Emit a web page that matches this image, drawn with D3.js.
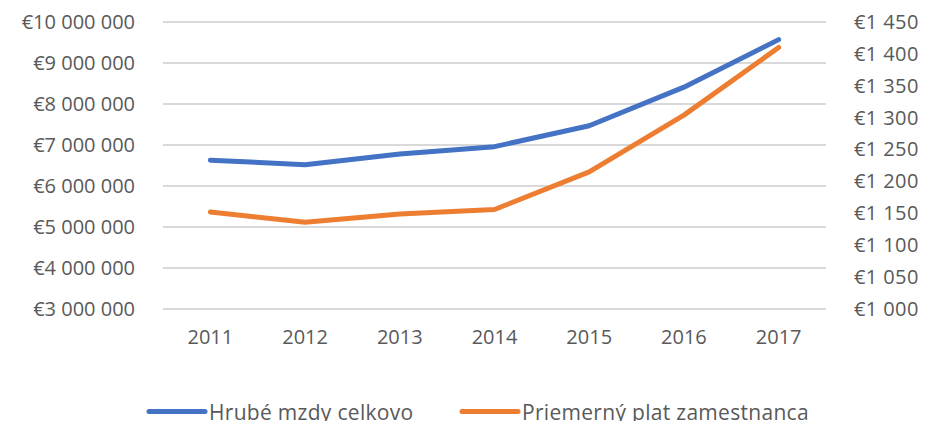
<!DOCTYPE html>
<html>
<head>
<meta charset="utf-8">
<script src="https://d3js.org/d3.v7.min.js"></script>
<style>
  body { margin: 0; background: #fff; }
  svg { display: block; }
  .tick text, .lbl { font-family: "Open Sans", "Noto Sans", sans-serif; fill: #595959; }
</style>
</head>
<body>
<script>
// years on the x axis
var years = ["2011", "2012", "2013", "2014", "2015", "2016", "2017"];
// left axis series: gross wages total
var hrubeMzdy = [6630000, 6520000, 6780000, 6960000, 7470000, 8410000, 9570000];
// right axis series: average employee pay
var priemernyPlat = [1152, 1136, 1149, 1156, 1215, 1304, 1410];
var leftTicks = [3000000, 4000000, 5000000, 6000000, 7000000, 8000000, 9000000, 10000000];
var rightTicks = [1000, 1050, 1100, 1150, 1200, 1250, 1300, 1350, 1400, 1450];
var seriesNames = ["Hrubé mzdy celkovo", "Priemerný plat zamestnanca"];
var colors = ["#4472C4", "#ED7D31"];

var outerWidth = 927, outerHeight = 421;
var margin = { top: 22, left: 163, right: 101, bottom: 112 };
var width = outerWidth - margin.left - margin.right,
  height = outerHeight - margin.top - margin.bottom;

// thousands with a space, like the Slovak Excel format
function euro(v) {
  return "€" + d3.format(",")(v).replace(/,/g, " ");
}

var svg = d3.select("body").append("svg")
  .attr("width", outerWidth)
  .attr("height", outerHeight);

var g = svg.append("g")
  .attr("transform", "translate(" + margin.left + "," + margin.top + ")");

var xScale = d3.scaleBand().domain(years).range([0, width]);
var yLeft = d3.scaleLinear().domain([3000000, 10000000]).range([height, 0]);
var yRight = d3.scaleLinear().domain([1000, 1450]).range([height, 0]);

// gridlines follow the left axis
g.append("g").selectAll("line")
  .data(leftTicks)
  .enter().append("line")
  .attr("x1", 0).attr("x2", width)
  .attr("y1", function(d) { return yLeft(d); })
  .attr("y2", function(d) { return yLeft(d); })
  .attr("stroke", "#d9d9d9")
  .attr("stroke-width", 2);

var leftAxis = g.append("g")
  .call(d3.axisLeft(yLeft).tickValues(leftTicks).tickFormat(euro).tickSize(0).tickPadding(28));
leftAxis.select(".domain").remove();

var rightAxis = g.append("g")
  .attr("transform", "translate(" + width + ",0)")
  .call(d3.axisRight(yRight).tickValues(rightTicks).tickFormat(euro).tickSize(0).tickPadding(28));
rightAxis.select(".domain").remove();
rightAxis.selectAll(".tick text").attr("letter-spacing", 0.4);

var xAxis = g.append("g")
  .attr("transform", "translate(0," + height + ")")
  .call(d3.axisBottom(xScale).tickSize(0).tickPadding(21));
xAxis.select(".domain").remove();

svg.selectAll(".tick text").attr("font-size", 20);

var lineLeft = d3.line()
  .x(function(d, i) { return xScale(years[i]) + xScale.bandwidth() / 2; })
  .y(function(d) { return yLeft(d); });
var lineRight = d3.line()
  .x(function(d, i) { return xScale(years[i]) + xScale.bandwidth() / 2; })
  .y(function(d) { return yRight(d); });

g.append("path")
  .datum(priemernyPlat)
  .attr("d", lineRight)
  .attr("fill", "none")
  .attr("stroke", colors[1])
  .attr("stroke-width", 5)
  .attr("stroke-linecap", "round")
  .attr("stroke-linejoin", "round");

g.append("path")
  .datum(hrubeMzdy)
  .attr("d", lineLeft)
  .attr("fill", "none")
  .attr("stroke", colors[0])
  .attr("stroke-width", 5)
  .attr("stroke-linecap", "round")
  .attr("stroke-linejoin", "round");

// legend at the bottom (clipped by the window edge like the original)
var legendX = [147, 460];
var legend = svg.append("g").selectAll("g")
  .data(seriesNames)
  .enter().append("g")
  .attr("transform", function(d, i) { return "translate(" + legendX[i] + ",411.5)"; });

legend.append("line")
  .attr("x1", 2).attr("x2", 58)
  .attr("stroke", function(d, i) { return colors[i]; })
  .attr("stroke-width", 5)
  .attr("stroke-linecap", "round");

legend.append("text")
  .attr("class", "lbl")
  .attr("x", 62)
  .attr("y", 8)
  .attr("font-size", 21)
  .attr("letter-spacing", 0.3)
  .text(function(d) { return d; });
</script>
</body>
</html>
